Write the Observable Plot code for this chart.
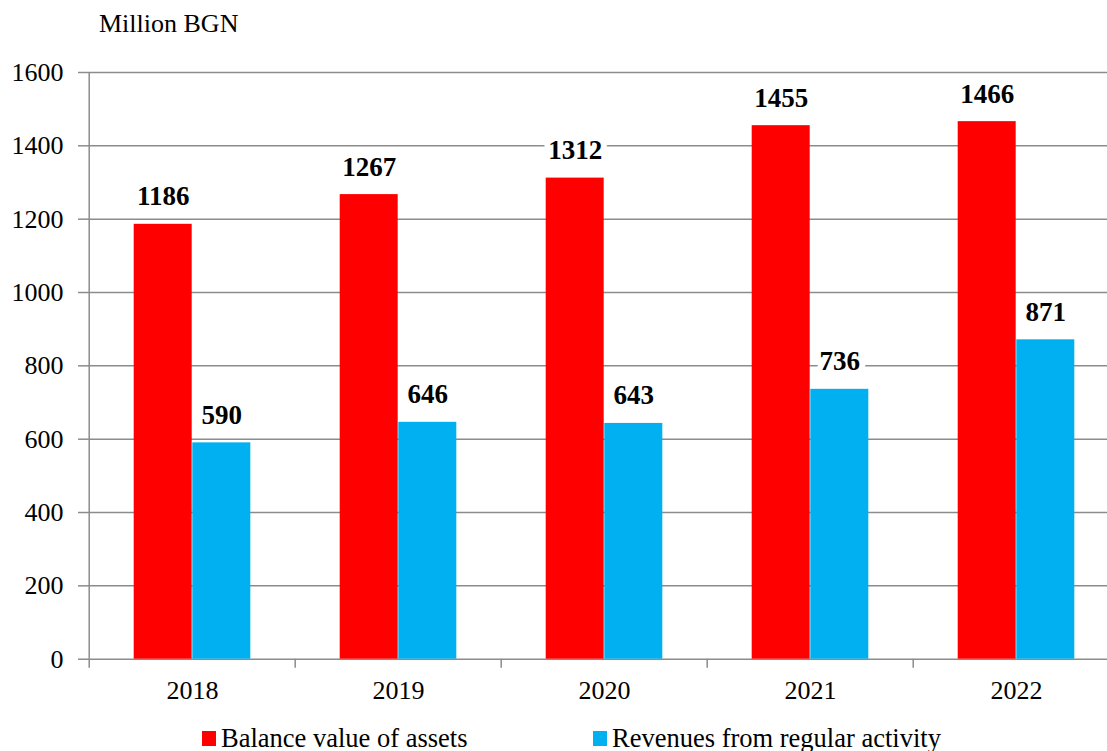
<!DOCTYPE html>
<html>
<head>
<meta charset="utf-8">
<script src="https://cdn.jsdelivr.net/npm/d3@7"></script>
<script src="https://cdn.jsdelivr.net/npm/@observablehq/plot@0.6"></script>
<style>
  html, body { margin: 0; padding: 0; background: #fff; }
  body { width: 1107px; height: 751px; overflow: hidden; color: #000; font-family: 'Liberation Serif', serif; }
  #title { height: 45px; box-sizing: border-box; padding-top: 9px; padding-left: 99px; font-size: 26px; line-height: 30px; }
  #chart svg { display: block; }
  #chart svg text { font-family: 'Liberation Serif', serif !important; }
  #legend { position: relative; height: 31px; font-size: 26.5px; line-height: 30px; }
  .sw { position: absolute; top: 11px; width: 14px; height: 15px; }
  .lt { position: absolute; top: 3px; white-space: nowrap; }
</style>
</head>
<body>
<div id="title">Million BGN</div>
<div id="chart"></div>
<div id="legend"></div>
<script>
const years = ["2018", "2019", "2020", "2021", "2022"];
const balanceValues = [1186, 1267, 1312, 1455, 1466];
const revenueValues = [590, 646, 643, 736, 871];
const seriesNames = ["Balance value of assets", "Revenues from regular activity"];
const seriesColors = ["#ff0000", "#00b0f0"];
const yTicks = [0, 200, 400, 600, 800, 1000, 1200, 1400, 1600];

const balance = years.map((year, i) => ({year, value: balanceValues[i]}));
const revenue = years.map((year, i) => ({year, value: revenueValues[i]}));

const FONT = "Liberation Serif";
const W = 1107, H = 675;
const x0 = 87, x1 = 1120;
const bw = (x1 - x0) / years.length;
const half = bw / 2;
const barW = 58.6;
const grid = "#8c8c8c";

const chart = Plot.plot({
  width: W,
  height: H,
  marginTop: 27,
  marginBottom: 61.3,
  marginLeft: x0,
  marginRight: 0,
  style: {fontFamily: FONT, background: "#fff", overflow: "visible"},
  x: {type: "band", domain: years, range: [x0, x1], padding: 0},
  y: {domain: [0, 1600]},
  marks: [
    Plot.ruleY(yTicks, {stroke: grid, strokeWidth: 1.5}),
    Plot.ruleX([years[0]], {y1: 0, y2: 1600, dx: -half, stroke: grid, strokeWidth: 1.5}),
    Plot.axisX({tickSize: 9, dx: -half, text: null, stroke: grid, strokeWidth: 1.5, label: null}),
    Plot.axisX({tickSize: 0, tickPadding: 21, fontSize: 26, fontFamily: FONT, fill: "#000", label: null}),
    Plot.axisY({ticks: yTicks, tickFormat: d => String(d), tickSize: 9, tickPadding: 15, fontSize: 26, fontFamily: FONT,
      stroke: grid, strokeWidth: 1.5, fill: "#000", label: null}),
    Plot.barY(balance, {x: "year", y: "value", fill: seriesColors[0], insetLeft: half - barW, insetRight: half}),
    Plot.barY(revenue, {x: "year", y: "value", fill: seriesColors[1], insetLeft: half, insetRight: half - barW}),
    Plot.text(balance, {x: "year", y: "value", text: d => String(d.value), dx: -barW / 2, dy: -19, lineAnchor: "bottom",
      fontSize: 27, fontWeight: "bold", fontFamily: FONT, fill: "#000", stroke: "#fff", strokeWidth: 12, paintOrder: "stroke"}),
    Plot.text(revenue, {x: "year", y: "value", text: d => String(d.value), dx: barW / 2, dy: -19, lineAnchor: "bottom",
      fontSize: 27, fontWeight: "bold", fontFamily: FONT, fill: "#000", stroke: "#fff", strokeWidth: 12, paintOrder: "stroke"})
  ]
});
document.getElementById("chart").append(chart);

const legend = document.getElementById("legend");
const legendX = [202, 593];
seriesNames.forEach((name, i) => {
  const sw = document.createElement("div");
  sw.className = "sw";
  sw.style.left = legendX[i] + "px";
  sw.style.background = seriesColors[i];
  const lt = document.createElement("div");
  lt.className = "lt";
  lt.style.left = (legendX[i] + 19) + "px";
  lt.textContent = name;
  legend.append(sw, lt);
});
</script>
</body>
</html>
